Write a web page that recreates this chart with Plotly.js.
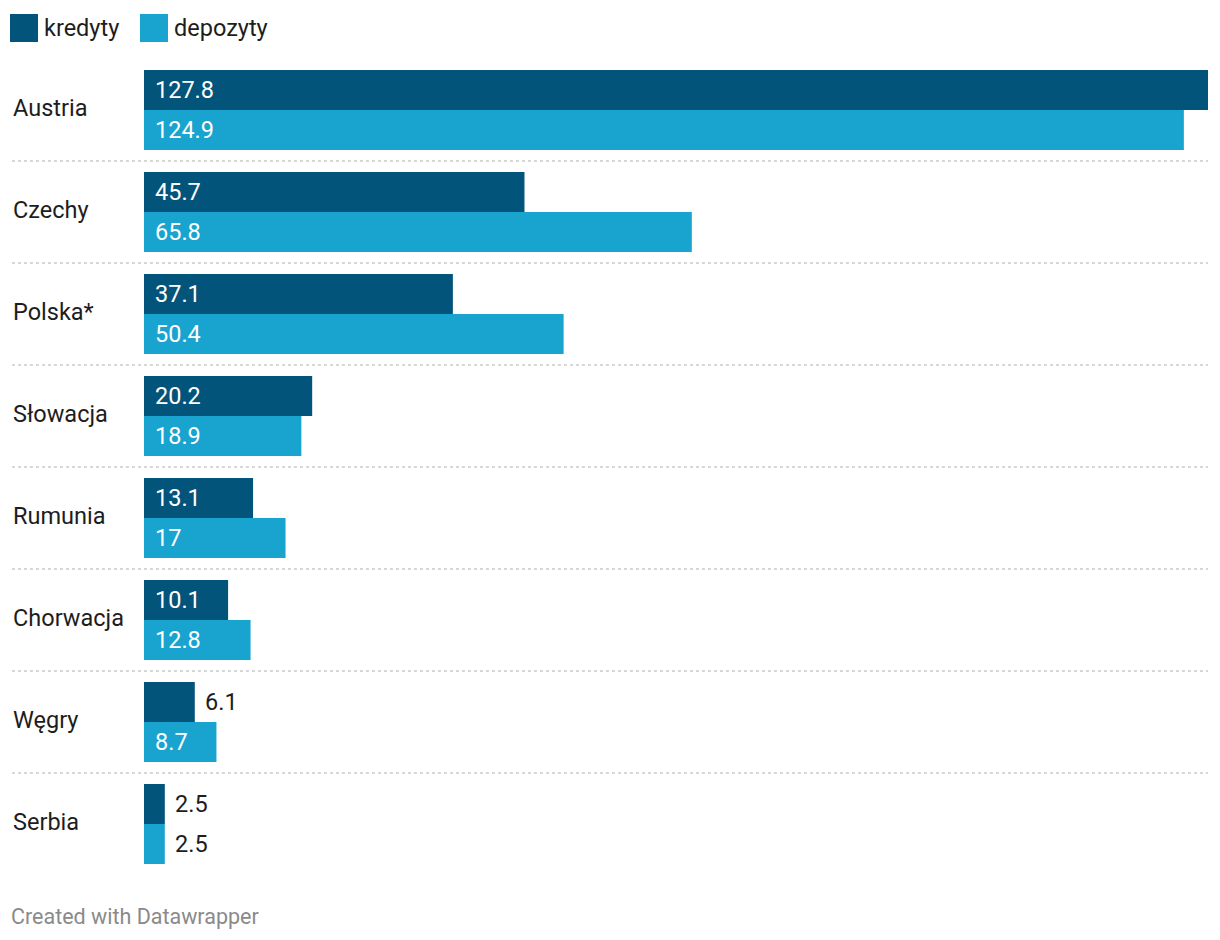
<!DOCTYPE html>
<html>
<head>
<meta charset="utf-8">
<script src="https://cdn.plot.ly/plotly-3.0.1.min.js"></script>
<style>html,body{margin:0;padding:0;background:#fff;}#chart{width:1220px;height:940px;}</style>
</head>
<body>
<div id="chart"></div>
<script>
const categories = ["Austria", "Czechy", "Polska*", "Słowacja", "Rumunia", "Chorwacja", "Węgry", "Serbia"];
const kredyty = [127.8, 45.7, 37.1, 20.2, 13.1, 10.1, 6.1, 2.5];
const depozyty = [124.9, 65.8, 50.4, 18.9, 17, 12.8, 8.7, 2.5];
const seriesNames = ["kredyty", "depozyty"];
const seriesColors = ["#03547a", "#19a3cf"];
const footerText = "Created with Datawrapper";

const W = 1220, H = 940;
const L = 144, R = 12, T = 59, B = 65;
const plotW = W - L - R, plotH = H - T - B;
const px2x = p => (p - L) / plotW;
const py2y = p => (H - B - p) / plotH;

const bargap = 22 / 102;
const fontFam = "Roboto, 'Open Sans', sans-serif";
const FS = 23.5;

const series = [kredyty, depozyty];
const traces = series.map((vals, k) => ({
  type: "bar",
  orientation: "h",
  name: seriesNames[k],
  y: categories,
  x: vals,
  marker: {color: seriesColors[k], line: {width: 0}},
  hoverinfo: "skip",
  showlegend: false
}));

const annotations = [];
const shapes = [];
const half = (1 - bargap) / 4;
const xmax = Math.max(...kredyty, ...depozyty);
const pxPerUnit = plotW / xmax;

// category labels
categories.forEach((c, i) => {
  annotations.push({
    xref: "paper", yref: "y", x: px2x(11), y: i, xanchor: "left", yanchor: "middle", yshift: 2.5,
    text: c, showarrow: false, font: {family: fontFam, size: FS, color: "#1d1d1d"}
  });
});

// value labels
series.forEach((vals, k) => {
  vals.forEach((v, i) => {
    const txt = String(v);
    const tw = txt.length * 13;
    const inside = v * pxPerUnit > tw + 24;
    annotations.push({
      xref: "x", yref: "y", x: inside ? 0 : v, y: i + (k === 0 ? -half : half),
      xanchor: "left", yanchor: "middle", xshift: inside ? 9 : 8, yshift: 0,
      text: txt, showarrow: false,
      font: {family: fontFam, size: FS, color: inside ? "#ffffff" : "#1d1d1d"}
    });
  });
});

// separators
for (let i = 0; i < categories.length - 1; i++) {
  const yy = 1 - (i + 1) / categories.length;
  shapes.push({
    type: "line", xref: "paper", yref: "paper",
    x0: px2x(12), x1: px2x(1208), y0: yy, y1: yy,
    line: {color: "#cccccc", width: 1.5, dash: "dot"}, layer: "below"
  });
}

// legend
const legendX = [10, 140];
seriesNames.forEach((n, k) => {
  shapes.push({
    type: "rect", xref: "paper", yref: "paper",
    x0: px2x(legendX[k]), x1: px2x(legendX[k] + 28),
    y0: py2y(42), y1: py2y(14),
    fillcolor: seriesColors[k], line: {width: 0}
  });
  annotations.push({
    xref: "paper", yref: "paper", x: px2x(legendX[k] + 32), y: py2y(28),
    xanchor: "left", yanchor: "middle", text: n, showarrow: false,
    font: {family: fontFam, size: FS, color: "#1d1d1d"}
  });
});

// footer
annotations.push({
  xref: "paper", yref: "paper", x: px2x(9), y: py2y(916),
  xanchor: "left", yanchor: "middle", text: footerText, showarrow: false,
  font: {family: fontFam, size: 21.5, color: "#8a8a8a"}
});

const layout = {
  width: W, height: H,
  margin: {l: L, r: R, t: T, b: B, pad: 0},
  paper_bgcolor: "#ffffff", plot_bgcolor: "#ffffff",
  barmode: "group", bargap: bargap, bargroupgap: 0,
  xaxis: {range: [0, xmax], showgrid: false, zeroline: false, showticklabels: false, showline: false, fixedrange: true},
  yaxis: {autorange: "reversed", showgrid: false, zeroline: false, showticklabels: false, showline: false, type: "category", fixedrange: true},
  showlegend: false,
  annotations: annotations,
  shapes: shapes,
  font: {family: fontFam}
};

Plotly.newPlot("chart", traces, layout, {displayModeBar: false, staticPlot: true});
</script>
</body>
</html>
